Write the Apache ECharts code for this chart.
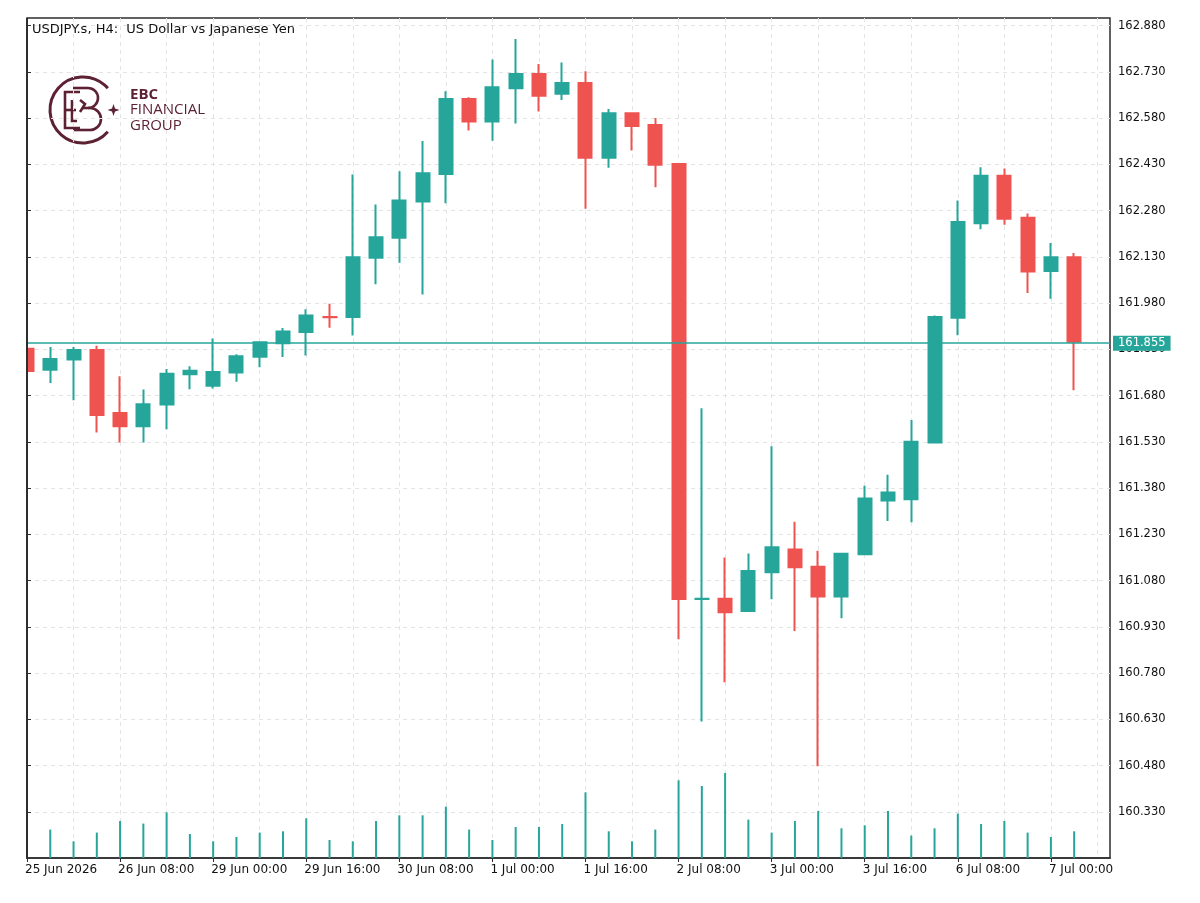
<!DOCTYPE html>
<html lang="en">
<head>
    <meta charset="UTF-8">
    <title>USDJPY.s, H4</title>
    <script src="https://cdn.jsdelivr.net/npm/echarts@6.0.0/dist/echarts.min.js"></script>
    <style>
        * { margin: 0; padding: 0; box-sizing: border-box; }
        html, body { width: 100%; height: 100%; background: #fff; overflow: hidden; }
        #chart { width: 1200px; height: 903px; }
    </style>
</head>
<body>
    <div id="chart"></div>
    <script>
        // H4 bars, index 0 = 25 Jun 16:00 (partly hidden behind left edge)
        const opens  = [161.832, 161.764, 161.797, 161.828, 161.624, 161.581, 161.651, 161.749, 161.712, 161.755,
                        161.806, 161.850, 161.886, 161.935, 161.935, 162.127, 162.192, 162.310, 162.399, 162.642,
                        162.569, 162.677, 162.723, 162.659, 162.694, 162.452, 162.596, 162.558, 162.431, 161.020,
                        161.021, 160.981, 161.107, 161.181, 161.125, 161.028, 161.165, 161.340, 161.344, 161.528,
                        161.933, 162.239, 162.393, 162.257, 162.084, 162.129];
        const closes = [161.760, 161.799, 161.828, 161.617, 161.581, 161.652, 161.751, 161.761, 161.757, 161.808,
                        161.853, 161.888, 161.940, 161.934, 162.129, 162.194, 162.313, 162.401, 162.642, 162.569,
                        162.680, 162.723, 162.653, 162.694, 162.452, 162.596, 162.555, 162.429, 161.020, 161.021,
                        160.977, 161.111, 161.188, 161.123, 161.028, 161.167, 161.346, 161.366, 161.530, 161.935,
                        162.243, 162.393, 162.254, 162.083, 162.129, 161.855];
        const lows   = [161.756, 161.721, 161.665, 161.560, 161.528, 161.528, 161.571, 161.701, 161.703, 161.725,
                        161.772, 161.805, 161.810, 161.900, 161.875, 162.041, 162.111, 162.008, 162.304, 162.540,
                        162.507, 162.563, 162.602, 162.639, 162.286, 162.419, 162.475, 162.356, 160.890, 160.623,
                        160.750, 160.980, 161.019, 160.916, 160.478, 160.958, 161.164, 161.273, 161.269, 161.526,
                        161.876, 162.220, 162.234, 162.013, 161.994, 161.697];
        const highs  = [161.840, 161.838, 161.838, 161.842, 161.743, 161.700, 161.766, 161.775, 161.865, 161.814,
                        161.856, 161.899, 161.960, 161.978, 162.397, 162.300, 162.408, 162.506, 162.667, 162.648,
                        162.770, 162.837, 162.756, 162.761, 162.732, 162.610, 162.598, 162.581, 162.432, 161.639,
                        161.155, 161.168, 161.516, 161.271, 161.177, 161.168, 161.388, 161.423, 161.601, 161.940,
                        162.313, 162.421, 162.417, 162.271, 162.175, 162.143];
        const volumes = [3000, 2840, 1670, 2540, 3700, 3440, 4570, 2400, 1670, 2100,
                         2540, 2670, 3970, 1800, 1670, 3700, 4270, 4270, 5140, 2840,
                         1800, 3100, 3100, 3400, 6570, 2670, 1670, 2840, 7770, 7200,
                         8500, 3840, 2540, 3700, 4700, 2970, 3270, 4700, 2240, 2970,
                         4440, 3400, 3700, 2540, 2100, 2670];
        // time labels, one every 4 bars
        const timeLabels = ['25 Jun 2026', '26 Jun 08:00', '29 Jun 00:00', '29 Jun 16:00', '30 Jun 08:00', '1 Jul 00:00',
                            '1 Jul 16:00', '2 Jul 08:00', '3 Jul 00:00', '3 Jul 16:00', '6 Jul 08:00', '7 Jul 00:00'];
        const lastPrice = 161.855;
        const title = 'USDJPY.s, H4:  US Dollar vs Japanese Yen';

        const UP = '#26a69a';
        const DOWN = '#ef5350';
        const FONT = 'DejaVu Sans';
        const LOGO = '#5c2233';
        const FRAME = '#2e2e2e';

        const candleData = opens.map((o, i) => [i, o, closes[i], lows[i], highs[i]]);
        const volumeData = volumes.map((v, i) => [i, v]);

        const chart = echarts.init(document.getElementById('chart'), null, { renderer: 'canvas' });

        const logoLine = (pts) => ({
            type: 'polyline', shape: { points: pts },
            style: { stroke: LOGO, lineWidth: 2.6, fill: null }
        });

        const gridLine = { show: true, showMinLine: false, showMaxLine: false,
                           lineStyle: { color: '#e4e4e4', type: [4, 4], width: 1 } };

        const option = {
            animation: false,
            backgroundColor: '#fff',
            grid: {
                left: 27, right: 90, top: 18, bottom: 45,
                show: true, borderColor: FRAME, borderWidth: 1.5, backgroundColor: '#fff'
            },
            xAxis: [{
                type: 'value', min: 0, max: 46.54, interval: 4,
                axisLine: { show: true, lineStyle: { color: FRAME, width: 1.5 } },
                axisTick: { show: true, length: 4, lineStyle: { color: FRAME, width: 1 } },
                axisLabel: {
                    show: true, showMaxLabel: false, align: 'left', margin: 6, padding: [0, 0, 0, -2],
                    fontFamily: FONT, fontSize: 12, color: '#111',
                    formatter: v => timeLabels[Math.round(v / 4)] || ''
                },
                splitLine: { show: false }
            }, {
                type: 'value', min: 0, max: 46.54, interval: 2, position: 'bottom',
                axisLine: { show: false }, axisTick: { show: false }, axisLabel: { show: false },
                splitLine: gridLine
            }],
            yAxis: [{
                type: 'value', position: 'right', min: 160.18, max: 162.905, interval: 0.15,
                axisLine: { show: true, lineStyle: { color: FRAME, width: 1.5 } },
                axisTick: { show: true, length: 4, lineStyle: { color: FRAME, width: 1 } },
                axisLabel: {
                    showMinLabel: false, showMaxLabel: false, margin: 8,
                    fontFamily: FONT, fontSize: 11.5, color: '#111',
                    formatter: v => v.toFixed(3)
                },
                splitLine: gridLine
            }, {
                type: 'value', min: 0, max: 84000, show: false, splitLine: { show: false }
            }],
            series: [{
                name: 'volume', type: 'bar', xAxisIndex: 0, yAxisIndex: 1,
                data: volumeData, barWidth: 2, itemStyle: { color: UP }, silent: true, z: 1
            }, {
                name: 'USDJPY', type: 'candlestick', xAxisIndex: 0, yAxisIndex: 0,
                data: candleData, barWidth: 13.5, clip: true, z: 3,
                itemStyle: {
                    color: UP, color0: DOWN, borderColor: UP, borderColor0: DOWN, borderWidth: 2
                },
                markLine: {
                    silent: true, symbol: ['none', 'none'],
                    lineStyle: { color: UP, width: 1.5, type: 'solid' },
                    label: {
                        position: 'end', distance: 3, formatter: lastPrice.toFixed(3),
                        backgroundColor: UP, color: '#fff', padding: [2, 5, 1, 5],
                        fontFamily: FONT, fontSize: 11.5
                    },
                    data: [{ yAxis: lastPrice }]
                }
            }],
            graphic: [{
                // hide the part of the first bar that falls left of the frame
                type: 'rect', x: 0, y: 10, z: 20, silent: true,
                shape: { width: 26.3, height: 850 },
                style: { fill: '#fff' }
            }, {
                type: 'line', z: 21, silent: true,
                shape: { x1: 27, y1: 18, x2: 27, y2: 858.75 },
                style: { stroke: FRAME, lineWidth: 2 }
            }, {
                type: 'text', x: 32, y: 23, z: 10,
                style: { text: title, font: '13px "DejaVu Sans"', fill: '#111' }
            }, {
                type: 'group', x: 0, y: 0, z: 10, silent: true,
                children: [{
                    type: 'arc',
                    shape: { cx: 83, cy: 110, r: 33, startAngle: 0.72, endAngle: Math.PI * 2 - 0.72, clockwise: true },
                    style: { stroke: LOGO, lineWidth: 3, fill: null }
                }, {
                    type: 'polygon',
                    shape: { points: [[113.5, 104], [115, 108.5], [119.5, 110], [115, 111.5], [113.5, 116], [112, 111.5], [107.5, 110], [112, 108.5]] },
                    style: { fill: LOGO }
                },
                logoLine([[80, 92], [65, 92], [65, 128], [80, 128]]),
                logoLine([[65, 110], [76, 110]]),
                logoLine([[72, 100], [72, 121], [77, 121]]),
                logoLine([[73, 88], [88, 88]]),
                logoLine([[82, 108], [90, 108]]),
                logoLine([[90, 130], [73, 130]]),
                logoLine([[80, 100], [85, 104], [80, 112]]),
                {
                    type: 'arc', shape: { cx: 88, cy: 98, r: 10, startAngle: -Math.PI / 2, endAngle: Math.PI / 2, clockwise: true },
                    style: { stroke: LOGO, lineWidth: 2.6, fill: null }
                }, {
                    type: 'arc', shape: { cx: 90, cy: 119, r: 11, startAngle: -Math.PI / 2, endAngle: Math.PI / 2, clockwise: true },
                    style: { stroke: LOGO, lineWidth: 2.6, fill: null }
                }, {
                    type: 'text', x: 130, y: 87,
                    style: { text: 'EBC', font: 'bold 15px "Open Sans"', fill: LOGO }
                }, {
                    type: 'text', x: 130, y: 102.5,
                    style: { text: 'FINANCIAL', font: '15px "Open Sans"', fill: LOGO }
                }, {
                    type: 'text', x: 130, y: 118,
                    style: { text: 'GROUP', font: '15px "Open Sans"', fill: LOGO }
                }]
            }]
        };

        chart.setOption(option);
    </script>
</body>
</html>
